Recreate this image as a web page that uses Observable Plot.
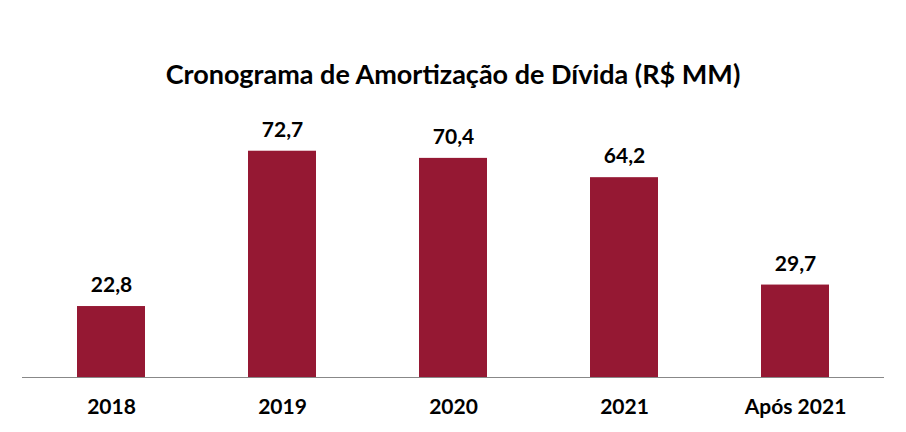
<!DOCTYPE html>
<html>
<head>
<meta charset="utf-8">
<script src="https://cdn.jsdelivr.net/npm/d3@7"></script>
<script src="https://cdn.jsdelivr.net/npm/@observablehq/plot@0.6"></script>
<style>
  html, body { margin: 0; padding: 0; background: #fff; }
  #wrap { width: 906px; height: 432px; position: relative; font-family: Lato, "Open Sans", sans-serif; }
  #title { height: 110px; text-align: center; font-weight: bold; font-size: 27px; color: #000; box-sizing: border-box; }
  #title span { display: inline-block; line-height: 1; padding-top: 60px; }
</style>
</head>
<body>
<div id="wrap">
  <div id="title"><span>Cronograma de Amortização de Dívida (R$ MM)</span></div>
  <div id="chart"></div>
</div>
<script>
const categories = ["2018", "2019", "2020", "2021", "Após 2021"];
const values = [22.8, 72.7, 70.4, 64.2, 29.7];

const data = categories.map((c, i) => ({category: c, value: values[i]}));
const fmt = v => v.toFixed(1).replace(".", ",");

const chart = Plot.plot({
  width: 906,
  height: 322,
  marginLeft: 22,
  marginRight: 22,
  marginTop: 18,
  marginBottom: 55,
  style: {fontFamily: "Lato, 'Open Sans', sans-serif", background: "#fff"},
  x: {domain: categories, paddingInner: 0.605, paddingOuter: 0.31, label: null},
  y: {domain: [0, 80], axis: null},
  marks: [
    Plot.barY(data, {x: "category", y: "value", fill: "#951833"}),
    Plot.ruleY([0], {stroke: "#888", strokeWidth: 1.2}),
    Plot.text(data, {x: "category", y: "value", text: d => fmt(d.value), dy: -21, fontSize: 21, fontWeight: "bold", fill: "#000"}),
    Plot.axisX({tickSize: 0, tickPadding: 22, fontSize: 21, fontWeight: "bold", color: "#000", label: null})
  ]
});
document.getElementById("chart").appendChild(chart);
</script>
</body>
</html>
